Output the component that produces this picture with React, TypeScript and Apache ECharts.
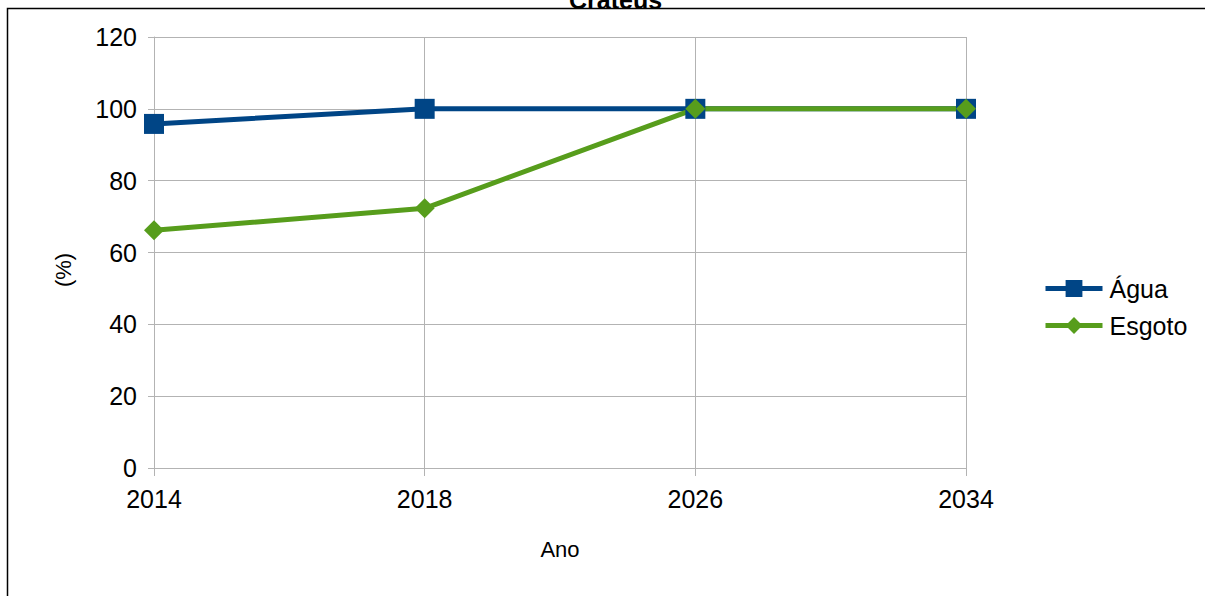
import React, { useEffect, useRef } from "react";
import * as echarts from "echarts";

const years = ["2014", "2018", "2026", "2034"];
const agua = [95.8, 100, 100, 100];
const esgoto = [66.2, 72.3, 100, 100];
const seriesNames = ["Água", "Esgoto"];
const titleText = "Crateús";
const xName = "Ano";
const yName = "(%)";

export default function App() {
  const ref = useRef<HTMLDivElement>(null);
  useEffect(() => {
    document.body.style.margin = "0";
    const chart = echarts.init(ref.current!, null, { renderer: "svg" });
    const font = "'Liberation Sans', Arial, sans-serif";
    chart.setOption({
      animation: false,
      backgroundColor: "#ffffff",
      title: {
        text: titleText,
        left: 564,
        top: -18,
        textStyle: { fontFamily: font, fontSize: 25, fontWeight: "bold", color: "#000" },
      },
      graphic: [
        {
          type: "rect",
          shape: { x: 7.5, y: 8.5, width: 1400, height: 800 },
          style: { fill: "none", stroke: "#000", lineWidth: 1.5 },
          silent: true,
        },
        {
          type: "text",
          x: 63,
          y: 270,
          rotation: Math.PI / 2,
          style: {
            text: yName,
            fontFamily: font,
            fontSize: 22,
            fill: "#000",
            textAlign: "center",
            textVerticalAlign: "middle",
          },
        },
      ],
      legend: {
        orient: "vertical",
        left: 1043,
        top: 276,
        padding: 0,
        itemWidth: 57,
        itemHeight: 21,
        itemGap: 12,
        itemStyle: { borderWidth: 0 },
        lineStyle: { width: 5 },
        textStyle: { fontFamily: font, fontSize: 25, color: "#000", padding: [0, 0, 0, 2] },
        data: seriesNames,
      },
      grid: { left: 154, right: 239, top: 37, bottom: 128, containLabel: false },
      xAxis: {
        type: "category",
        data: years,
        boundaryGap: false,
        name: xName,
        nameLocation: "middle",
        nameGap: 70,
        nameTextStyle: { fontFamily: font, fontSize: 22, color: "#000" },
        axisLine: { show: true, lineStyle: { color: "#b3b3b3", width: 1 } },
        axisTick: { show: true, length: 8, lineStyle: { color: "#b3b3b3" } },
        axisLabel: { fontFamily: font, fontSize: 25, color: "#000", margin: 18 },
        splitLine: { show: true, lineStyle: { color: "#b3b3b3", width: 1 } },
      },
      yAxis: {
        type: "value",
        min: 0,
        max: 120,
        interval: 20,
        axisLine: { show: true, lineStyle: { color: "#b3b3b3", width: 1 } },
        axisTick: { show: true, length: 6, lineStyle: { color: "#b3b3b3" } },
        axisLabel: { fontFamily: font, fontSize: 25, color: "#000", margin: 17 },
        splitLine: { show: true, lineStyle: { color: "#b3b3b3", width: 1 } },
      },
      series: [
        {
          name: seriesNames[0],
          type: "line",
          data: agua,
          symbol: "rect",
          symbolSize: 20,
          color: "#004586",
          lineStyle: { width: 5, color: "#004586" },
          itemStyle: { color: "#004586" },
        },
        {
          name: seriesNames[1],
          type: "line",
          data: esgoto,
          symbol: "diamond",
          symbolSize: 20,
          color: "#579d1c",
          lineStyle: { width: 5, color: "#579d1c" },
          itemStyle: { color: "#579d1c" },
        },
      ],
    });
    return () => chart.dispose();
  }, []);
  return (
    <div
      ref={ref}
      style={{ position: "absolute", left: 0, top: 0, width: 1205, height: 596 }}
    />
  );
}
